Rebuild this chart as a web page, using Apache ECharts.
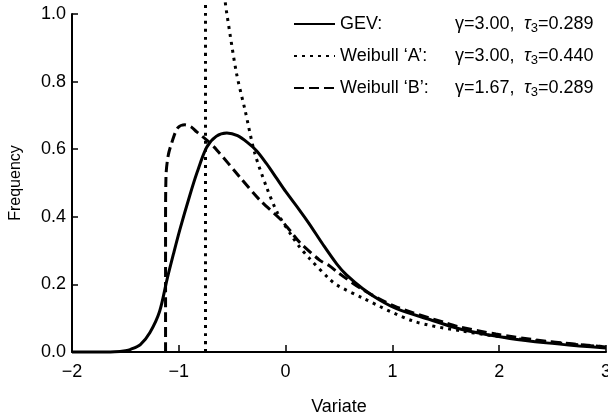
<!DOCTYPE html>
<html>
<head>
<meta charset="utf-8">
<script src="https://cdn.jsdelivr.net/npm/echarts@6/dist/echarts.min.js"></script>
<style>
  html, body { margin: 0; padding: 0; background: #fff; }
  #chart { width: 608px; height: 419px; }
</style>
</head>
<body>
<div id="chart"></div>
<script>
// values
const gevX = [-2, -1.8, -1.6, -1.5, -1.45, -1.36, -1.27, -1.18, -1.11, -1.05, -0.99, -0.9, -0.83, -0.74, -0.65, -0.55, -0.45, -0.35, -0.27, -0.18, -0.08, 0.0, 0.13, 0.22, 0.35, 0.48, 0.57, 0.72, 0.88, 1.05, 1.35, 1.6, 1.81, 2.1, 2.44, 2.75, 3.0];
const gevY = [0, 0, 0.001, 0.004, 0.008, 0.022, 0.058, 0.12, 0.215, 0.29, 0.362, 0.46, 0.53, 0.605, 0.638, 0.648, 0.64, 0.618, 0.595, 0.558, 0.512, 0.475, 0.42, 0.38, 0.318, 0.26, 0.228, 0.188, 0.154, 0.127, 0.096, 0.071, 0.056, 0.04, 0.027, 0.018, 0.012];

const weibullAX = [-0.75, -0.75, -0.74, -0.68, -0.6, -0.55, -0.46, -0.38, -0.29, -0.18, -0.075, 0.065, 0.13, 0.22, 0.41, 0.48, 0.72, 1.19, 1.65, 2.12, 2.75, 3.0];
const weibullAY = [0, 1.0, 1.1, 1.15, 1.1, 1.0, 0.825, 0.716, 0.59, 0.489, 0.411, 0.34, 0.311, 0.278, 0.216, 0.198, 0.16, 0.092, 0.062, 0.041, 0.021, 0.016];

const weibullBX = [-1.124, -1.124, -1.12, -1.1, -1.065, -1.01, -0.944, -0.88, -0.832, -0.738, -0.645, -0.43, -0.243, -0.056, 0.037, 0.13, 0.318, 0.41, 0.49, 0.72, 1.04, 1.5, 1.63, 1.97, 2.44, 3.0];
const weibullBY = [0, 0.37, 0.52, 0.58, 0.62, 0.663, 0.672, 0.665, 0.651, 0.627, 0.598, 0.518, 0.45, 0.395, 0.361, 0.325, 0.272, 0.255, 0.235, 0.185, 0.133, 0.086, 0.074, 0.053, 0.032, 0.015];

const seriesNames = ["GEV:", "Weibull \u2018A\u2019:", "Weibull \u2018B\u2019:"];
const gammaLabels = ["\u03b3=3.00,", "\u03b3=3.00,", "\u03b3=1.67,"];
const tauLabels = ["=0.289", "=0.440", "=0.289"];

const xTicks = [-2, -1, 0, 1, 2, 3];
const yTicks = [0, 0.2, 0.4, 0.6, 0.8, 1.0];

const zip = (xs, ys) => xs.map((x, i) => [x, ys[i]]);
const font = "Liberation Sans";

const chart = echarts.init(document.getElementById("chart"), null, { renderer: "canvas" });

const lineBase = {
  type: "line",
  showSymbol: false,
  symbol: "none",
  smooth: 0.3,
  clip: false,
  animation: false,
  itemStyle: { color: "#000" },
};

chart.setOption({
  backgroundColor: "#fff",
  animation: false,
  grid: { left: 72, right: 2, top: 14, bottom: 67, containLabel: false, outerBoundsMode: "none" },
  legend: {
    orient: "vertical",
    left: 288,
    top: 10,
    itemWidth: 41,
    itemHeight: 12,
    itemGap: 12,
    data: seriesNames,
    itemStyle: { opacity: 0 },
    textStyle: {
      color: "#000",
      fontFamily: font,
      fontSize: 18,
      rich: {
        n: { width: 115, fontSize: 18, fontFamily: font, color: "#000", lineHeight: 22 },
        g: { width: 69, fontSize: 18, fontFamily: font, color: "#000", lineHeight: 22 },
        t: { fontSize: 18, fontFamily: font, color: "#000", lineHeight: 22, fontStyle: "italic" },
        s: { fontSize: 13, fontFamily: font, color: "#000", lineHeight: 10, verticalAlign: "bottom" },
        v: { fontSize: 18, fontFamily: font, color: "#000", lineHeight: 22 },
      },
    },
    formatter: (name) => {
      const i = seriesNames.indexOf(name);
      return `{n|${name}}{g|${gammaLabels[i]}}{t|\u03c4}{s|3}{v|${tauLabels[i]}}`;
    },
  },
  xAxis: {
    type: "value",
    min: xTicks[0],
    max: xTicks[xTicks.length - 1],
    interval: 1,
    name: "Variate",
    nameLocation: "middle",
    nameGap: 46,
    nameTextStyle: { color: "#000", fontFamily: font, fontSize: 18 },
    axisLine: { onZero: false, lineStyle: { color: "#000", width: 2 } },
    axisTick: { inside: true, length: 7, lineStyle: { color: "#000", width: 1.5 } },
    axisLabel: {
      color: "#000",
      fontFamily: font,
      fontSize: 18,
      margin: 11,
      formatter: (v) => String(v).replace("-", "\u2212"),
    },
    splitLine: { show: false },
  },
  yAxis: {
    type: "value",
    min: yTicks[0],
    max: yTicks[yTicks.length - 1],
    interval: 0.2,
    name: "Frequency",
    nameLocation: "middle",
    nameGap: 48,
    nameRotate: 90,
    nameTextStyle: { color: "#000", fontFamily: font, fontSize: 16 },
    axisLine: { show: true, onZero: false, lineStyle: { color: "#000", width: 2 } },
    axisTick: { show: true, inside: true, length: 6, lineStyle: { color: "#000", width: 1.5 } },
    axisLabel: {
      color: "#000",
      fontFamily: font,
      fontSize: 18,
      margin: 6,
      formatter: (v) => v.toFixed(1),
    },
    splitLine: { show: false },
  },
  series: [
    Object.assign({}, lineBase, {
      name: seriesNames[0],
      data: zip(gevX, gevY),
      lineStyle: { color: "#000", width: 3, type: "solid" },
      z: 3,
    }),
    Object.assign({}, lineBase, {
      name: seriesNames[1],
      data: zip(weibullAX, weibullAY),
      lineStyle: { color: "#000", width: 3, type: [3, 5] },
      z: 2,
    }),
    Object.assign({}, lineBase, {
      name: seriesNames[2],
      data: zip(weibullBX, weibullBY),
      lineStyle: { color: "#000", width: 3, type: [10, 5] },
      z: 2,
    }),
  ],
});
</script>
</body>
</html>
